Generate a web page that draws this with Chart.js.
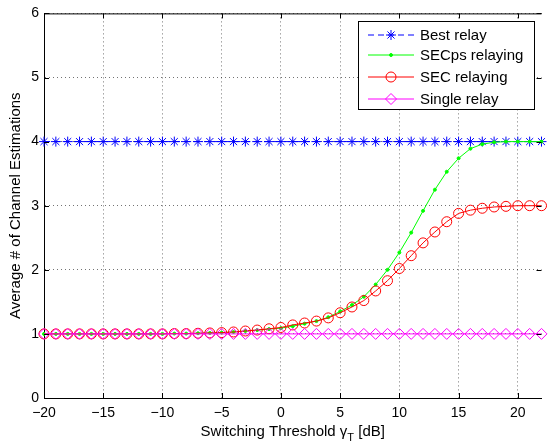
<!DOCTYPE html>
<html>
<head>
<meta charset="utf-8">
<script src="https://cdn.jsdelivr.net/npm/chart.js@4.4.0/dist/chart.umd.min.js"></script>
<style>
  html, body { margin: 0; padding: 0; background: #fff; }
  canvas { display: block; }
</style>
</head>
<body>
<canvas id="channelChart" width="548" height="447"></canvas>
<script>
// switching threshold (dB)
const thresholds = [-20, -19, -18, -17, -16, -15, -14, -13, -12, -11, -10, -9, -8, -7, -6, -5, -4, -3, -2, -1,
  0, 1, 2, 3, 4, 5, 6, 7, 8, 9, 10, 11, 12, 13, 14, 15, 16, 17, 18, 19, 20, 21, 22];

// average number of channel estimations per scheme
const bestRelay = [4, 4, 4, 4, 4, 4, 4, 4, 4, 4, 4, 4, 4, 4, 4, 4, 4, 4, 4, 4,
  4, 4, 4, 4, 4, 4, 4, 4, 4, 4, 4, 4, 4, 4, 4, 4, 4, 4, 4, 4, 4, 4, 4];
const secpsRelaying = [1, 1, 1, 1, 1, 1, 1, 1, 1, 1, 1, 1.005, 1.005, 1.01, 1.015, 1.02, 1.03, 1.045, 1.06, 1.075,
  1.09, 1.12, 1.16, 1.2, 1.26, 1.35, 1.45, 1.58, 1.77, 2.0, 2.27, 2.58, 2.92, 3.25, 3.53, 3.74, 3.89, 3.96, 3.99, 4, 4, 4, 4];
const secRelaying = [1, 1, 1, 1, 1, 1, 1, 1, 1, 1, 1, 1.005, 1.005, 1.01, 1.015, 1.02, 1.03, 1.045, 1.06, 1.08,
  1.1, 1.14, 1.17, 1.2, 1.25, 1.33, 1.42, 1.52, 1.67, 1.83, 2.02, 2.22, 2.42, 2.59, 2.75, 2.88, 2.93, 2.96, 2.98, 2.99, 3, 3, 3];
const singleRelay = [1, 1, 1, 1, 1, 1, 1, 1, 1, 1, 1, 1, 1, 1, 1, 1, 1, 1, 1, 1,
  1, 1, 1, 1, 1, 1, 1, 1, 1, 1, 1, 1, 1, 1, 1, 1, 1, 1, 1, 1, 1, 1, 1];

const xTicks = [-20, -15, -10, -5, 0, 5, 10, 15, 20];
const yTicks = [0, 1, 2, 3, 4, 5, 6];

const FONT = '"Liberation Sans", Arial, Helvetica, sans-serif';

const toPoints = values => thresholds.map((x, i) => ({ x: x, y: values[i] }));
const minus = v => (v < 0 ? '\u2212' + Math.abs(v) : String(v));

const series = [
  { label: 'Best relay', data: bestRelay, color: '#0000ff', style: 'star', radius: 5, dash: [6, 4], order: 4 },
  { label: 'SECps relaying', data: secpsRelaying, color: '#00ff00', style: 'circle', radius: 1.5, fillPoint: true, order: 3 },
  { label: 'SEC relaying', data: secRelaying, color: '#ff0000', style: 'circle', radius: 5, order: 2 },
  { label: 'Single relay', data: singleRelay, color: '#ff00ff', style: 'rectRot', radius: 5.5, order: 1 }
];

function drawMarker(ctx, s, x, y) {
  ctx.save();
  ctx.strokeStyle = s.color;
  ctx.fillStyle = s.color;
  ctx.lineWidth = 1;
  ctx.setLineDash([]);
  ctx.beginPath();
  const r = s.radius;
  if (s.style === 'star') {
    const d = r * Math.SQRT1_2;
    ctx.moveTo(x - r, y); ctx.lineTo(x + r, y);
    ctx.moveTo(x, y - r); ctx.lineTo(x, y + r);
    ctx.moveTo(x - d, y - d); ctx.lineTo(x + d, y + d);
    ctx.moveTo(x - d, y + d); ctx.lineTo(x + d, y - d);
    ctx.stroke();
  } else if (s.style === 'rectRot') {
    ctx.moveTo(x - r, y); ctx.lineTo(x, y - r); ctx.lineTo(x + r, y); ctx.lineTo(x, y + r);
    ctx.closePath();
    ctx.stroke();
  } else {
    ctx.arc(x, y, r, 0, Math.PI * 2);
    if (s.fillPoint) ctx.fill();
    ctx.stroke();
  }
  ctx.restore();
}

// axes box, inward ticks, x label with subscript and the legend
const decorations = {
  id: 'decorations',
  afterDraw(chart) {
    const { ctx, chartArea: a, scales } = chart;
    ctx.save();
    ctx.strokeStyle = '#000';
    ctx.lineWidth = 1;
    ctx.beginPath();
    ctx.moveTo(a.left, a.top + 0.5);
    ctx.lineTo(a.right, a.top + 0.5);
    xTicks.forEach(v => {
      const px = Math.round(scales.x.getPixelForValue(v)) + 0.5;
      ctx.moveTo(px, a.bottom); ctx.lineTo(px, a.bottom - 5);
      ctx.moveTo(px, a.top); ctx.lineTo(px, a.top + 5);
    });
    yTicks.forEach(v => {
      const py = Math.round(scales.y.getPixelForValue(v)) + 0.5;
      ctx.moveTo(a.left, py); ctx.lineTo(a.left + 5, py);
      ctx.moveTo(a.right, py); ctx.lineTo(a.right - 5, py);
    });
    ctx.stroke();

    // x axis title: Switching Threshold γ_T [dB]
    const main = 'Switching Threshold \u03b3';
    const sub = 'T';
    const tail = ' [dB]';
    ctx.fillStyle = '#000';
    ctx.textBaseline = 'alphabetic';
    ctx.textAlign = 'left';
    ctx.font = '15px ' + FONT;
    const wMain = ctx.measureText(main).width;
    const wTail = ctx.measureText(tail).width;
    ctx.font = '11px ' + FONT;
    const wSub = ctx.measureText(sub).width;
    const cx = (a.left + a.right) / 2;
    let tx = cx - (wMain + wSub + wTail) / 2;
    const base = 435.5;
    ctx.font = '15px ' + FONT;
    ctx.fillText(main, tx, base);
    tx += wMain;
    ctx.font = '11px ' + FONT;
    ctx.fillText(sub, tx, base + 5);
    tx += wSub;
    ctx.font = '15px ' + FONT;
    ctx.fillText(tail, tx, base);

    // legend
    const box = { x: 358.5, y: 21.5, w: 176, h: 88 };
    const rows = [35, 55, 77, 99];
    ctx.fillStyle = '#fff';
    ctx.fillRect(box.x, box.y, box.w, box.h);
    ctx.strokeRect(box.x, box.y, box.w, box.h);
    ctx.font = '15px ' + FONT;
    ctx.textBaseline = 'middle';
    series.forEach((s, i) => {
      const ry = rows[i];
      ctx.save();
      ctx.strokeStyle = s.color;
      ctx.setLineDash(s.dash || []);
      ctx.beginPath();
      ctx.moveTo(368, ry);
      ctx.lineTo(414, ry);
      ctx.stroke();
      ctx.restore();
      drawMarker(ctx, s, 391, ry);
      ctx.fillStyle = '#000';
      ctx.fillText(s.label, 420, ry + 1);
    });
    ctx.restore();
  }
};

const ctx = document.getElementById('channelChart').getContext('2d');
new Chart(ctx, {
  type: 'line',
  data: {
    datasets: series.map(s => ({
      label: s.label,
      data: toPoints(s.data),
      borderColor: s.color,
      borderWidth: 1,
      borderDash: s.dash || [],
      pointStyle: s.style,
      pointRadius: s.radius,
      pointBorderColor: s.color,
      pointBorderWidth: 1,
      pointBackgroundColor: s.fillPoint ? s.color : 'rgba(0,0,0,0)',
      fill: false,
      tension: 0,
      clip: false,
      order: s.order
    }))
  },
  options: {
    responsive: false,
    animation: false,
    events: [],
    layout: { padding: { top: 7, left: 0, right: 0, bottom: 0 } },
    plugins: { legend: { display: false }, tooltip: { enabled: false } },
    scales: {
      x: {
        type: 'linear',
        min: -20,
        max: 22,
        afterBuildTicks: scale => { scale.ticks = xTicks.map(v => ({ value: v })); },
        afterFit: scale => { scale.height = 49; },
        grid: { color: 'rgba(0,0,0,0.55)', drawTicks: false },
        border: { display: true, color: '#000', width: 1, dash: [1, 3] },
        ticks: {
          color: '#000',
          font: { family: FONT, size: 14 },
          padding: 7,
          maxRotation: 0,
          callback: v => minus(v)
        }
      },
      y: {
        min: 0,
        max: 6,
        afterBuildTicks: scale => { scale.ticks = yTicks.map(v => ({ value: v })); },
        afterFit: scale => { scale.width = 44; },
        grid: { color: 'rgba(0,0,0,0.55)', drawTicks: false },
        border: { display: true, color: '#000', width: 1, dash: [1, 3] },
        ticks: {
          color: '#000',
          font: { family: FONT, size: 14 },
          padding: 5,
          callback: v => String(v)
        },
        title: {
          display: true,
          text: 'Average # of Channel Estimations',
          color: '#000',
          font: { family: FONT, size: 15 },
          padding: { top: 7, bottom: 0 }
        }
      }
    }
  },
  plugins: [decorations]
});
</script>
</body>
</html>
